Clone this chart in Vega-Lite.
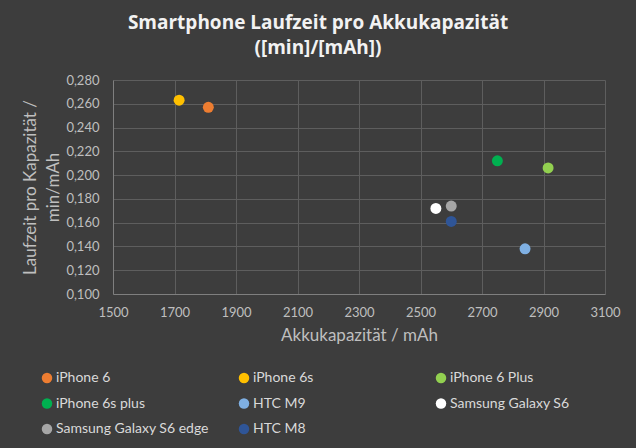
{
  "$schema": "https://vega.github.io/schema/vega-lite/v6.json",
  "width": 492,
  "height": 214,
  "autosize": {"type": "none"},
  "padding": {"left": 113, "top": 80, "right": 31, "bottom": 154},
  "background": "#3d3d3d",
  "title": {
    "text": ["Smartphone Laufzeit pro Akkukapazität", "([min]/[mAh])"],
    "font": "Open Sans",
    "fontSize": 19,
    "fontWeight": "bold",
    "color": "#f2f2f2",
    "anchor": "middle",
    "frame": "group",
    "dx": -41,
    "offset": 16,
    "lineHeight": 25
  },
  "data": {
    "values": [
      {"phone": "iPhone 6", "mah": 1810, "ratio": 0.257},
      {"phone": "iPhone 6s", "mah": 1715, "ratio": 0.263},
      {"phone": "iPhone 6 Plus", "mah": 2915, "ratio": 0.206},
      {"phone": "iPhone 6s plus", "mah": 2750, "ratio": 0.212},
      {"phone": "HTC M9", "mah": 2840, "ratio": 0.138},
      {"phone": "Samsung Galaxy S6", "mah": 2550, "ratio": 0.172},
      {"phone": "Samsung Galaxy S6 edge", "mah": 2600, "ratio": 0.174},
      {"phone": "HTC M8", "mah": 2600, "ratio": 0.161}
    ]
  },
  "mark": {"type": "circle", "size": 120, "opacity": 1},
  "encoding": {
    "x": {
      "field": "mah",
      "type": "quantitative",
      "scale": {"domain": [1500, 3100], "nice": false, "zero": false},
      "axis": {
        "values": [1500, 1700, 1900, 2100, 2300, 2500, 2700, 2900, 3100],
        "format": "d",
        "labelFlush": false,
        "title": "Akkukapazität / mAh",
        "labelPadding": 12,
        "titlePadding": 8
      }
    },
    "y": {
      "field": "ratio",
      "type": "quantitative",
      "scale": {"domain": [0.1, 0.28], "nice": false, "zero": false},
      "axis": {
        "values": [0.1, 0.12, 0.14, 0.16, 0.18, 0.2, 0.22, 0.24, 0.26, 0.28],
        "labelExpr": "replace(format(datum.value, '.3f'), '.', ',')",
        "labelFlush": false,
        "title": ["Laufzeit pro Kapazität /", "min/mAh"],
        "labelPadding": 14,
        "titleX": -83,
        "titleY": 107,
        "titleAngle": -90,
        "titleAlign": "center",
        "titleBaseline": "middle",
        "titleLineHeight": 23
      }
    },
    "color": {
      "field": "phone",
      "type": "nominal",
      "scale": {
        "domain": ["iPhone 6", "iPhone 6s", "iPhone 6 Plus", "iPhone 6s plus", "HTC M9", "Samsung Galaxy S6", "Samsung Galaxy S6 edge", "HTC M8"],
        "range": ["#ed7d31", "#ffc000", "#92d050", "#00b050", "#7fb0e3", "#ffffff", "#a6a6a6", "#2f5597"]
      },
      "legend": {
        "title": null,
        "orient": "none",
        "legendX": -73,
        "legendY": 291,
        "direction": "horizontal",
        "columns": 3,
        "gridAlign": "all",
        "columnPadding": 28,
        "rowPadding": 11.5,
        "symbolType": "circle",
        "symbolSize": 110,
        "symbolOpacity": 1,
        "symbolStrokeWidth": 0,
        "labelFontSize": 14,
        "labelColor": "#d9d9d9",
        "labelOffset": 2,
        "labelLimit": 300
      }
    }
  },
  "config": {
    "font": "Lato",
    "view": {"stroke": null},
    "axis": {
      "labelColor": "#bfbfbf",
      "labelFontSize": 13,
      "titleColor": "#bfbfbf",
      "titleFontSize": 17,
      "titleFontWeight": "normal",
      "gridColor": "#5e5e5e",
      "gridWidth": 1,
      "ticks": false,
      "domainColor": "#7f7f7f"
    }
  }
}
